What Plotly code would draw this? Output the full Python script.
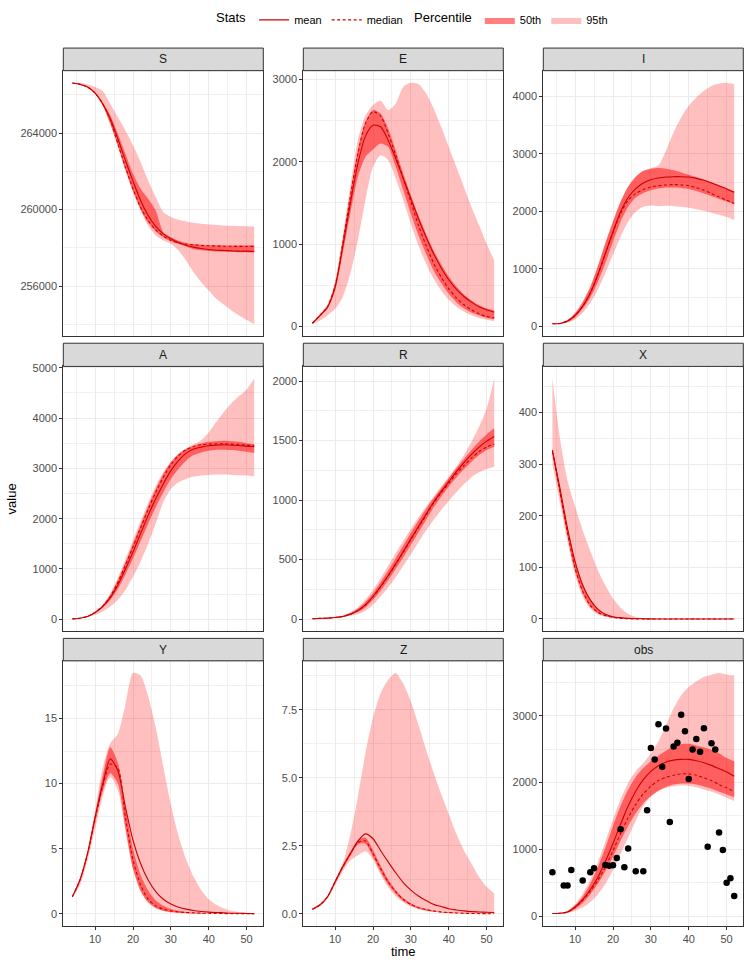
import plotly.graph_objects as go

# ---------------- data ----------------
time = list(range(4, 53, 2))

S_mean   = [266614, 266545, 266405, 266090, 265535, 264750, 263700, 262570, 261490, 260480, 259695, 259120, 258735, 258475, 258280, 258140, 258040, 257970, 257920, 257880, 257865, 257850, 257830, 257830, 257810]
S_median = [266614, 266545, 266405, 266090, 265535, 264700, 263440, 262220, 261090, 260130, 259430, 258945, 258610, 258390, 258265, 258195, 258160, 258130, 258110, 258100, 258090, 258085, 258080, 258075, 258074]
S_p25    = [266600, 266530, 266385, 266056, 265450, 264490, 263355, 262080, 260970, 260010, 259310, 258860, 258560, 258350, 258210, 258075, 257935, 257880, 257840, 257815, 257800, 257790, 257780, 257770, 257760]
S_p75    = [266625, 266560, 266425, 266120, 265580, 264925, 263965, 262920, 261870, 261090, 260570, 259955, 258820, 258560, 258380, 258260, 258200, 258160, 258140, 258135, 258130, 258130, 258130, 258135, 258150]
S_p025   = [266595, 266520, 266370, 266030, 265420, 264450, 263300, 262030, 260915, 259955, 259170, 258650, 258390, 258215, 257865, 257340, 256730, 256210, 255770, 255340, 255025, 254730, 254470, 254240, 254030]
S_p975   = [266630, 266615, 266545, 266405, 266195, 265535, 264835, 264140, 263360, 262490, 261525, 260655, 259870, 259610, 259470, 259380, 259310, 259260, 259225, 259200, 259170, 259155, 259140, 259130, 259120]

E_mean   = [40, 134, 235, 478, 965, 1492, 1978, 2311, 2444, 2424, 2262, 2039, 1796, 1553, 1309, 1086, 884, 714, 568, 454, 365, 296, 239, 203, 174]
E_median = [40, 134, 240, 499, 1005, 1573, 2100, 2465, 2607, 2554, 2343, 2080, 1796, 1512, 1228, 985, 770, 600, 458, 349, 264, 203, 154, 122, 105]
E_p25    = [36, 125, 222, 438, 884, 1370, 1816, 2059, 2149, 2222, 2181, 1938, 1654, 1370, 1107, 884, 681, 527, 397, 296, 223, 170, 134, 105, 89]
E_p75    = [44, 142, 252, 519, 1046, 1613, 2140, 2485, 2627, 2586, 2404, 2140, 1857, 1593, 1350, 1127, 924, 754, 608, 486, 389, 316, 259, 219, 195]
E_p025   = [32, 73, 134, 215, 357, 641, 1046, 1532, 1938, 2080, 2019, 1796, 1532, 1249, 985, 762, 580, 438, 324, 243, 182, 138, 105, 81, 65]
E_p975   = [53, 154, 276, 539, 1087, 1695, 2262, 2560, 2690, 2741, 2627, 2708, 2911, 2959, 2943, 2830, 2647, 2424, 2181, 1938, 1695, 1451, 1228, 1005, 803]

I_mean   = [40, 46, 87, 185, 346, 577, 895, 1270, 1645, 1991, 2240, 2395, 2494, 2551, 2580, 2597, 2603, 2603, 2597, 2574, 2540, 2494, 2442, 2390, 2332]
I_median = [40, 46, 87, 185, 346, 577, 895, 1265, 1630, 1962, 2193, 2309, 2378, 2424, 2447, 2459, 2465, 2459, 2447, 2413, 2367, 2309, 2251, 2193, 2136]
I_p25    = [39, 44, 70, 150, 300, 500, 770, 1100, 1472, 1818, 2078, 2240, 2320, 2367, 2395, 2413, 2413, 2407, 2390, 2355, 2309, 2263, 2216, 2170, 2124]
I_p75    = [41, 49, 105, 225, 415, 680, 1040, 1443, 1818, 2165, 2424, 2597, 2701, 2742, 2753, 2742, 2713, 2678, 2638, 2597, 2551, 2505, 2453, 2401, 2349]
I_p025   = [38, 42, 58, 115, 231, 404, 635, 924, 1241, 1558, 1818, 1991, 2078, 2101, 2089, 2095, 2089, 2078, 2061, 2037, 2009, 1974, 1939, 1899, 1847]
I_p975   = [42, 50, 110, 232, 420, 690, 1050, 1455, 1830, 2175, 2435, 2605, 2710, 2750, 2800, 3059, 3377, 3636, 3838, 3983, 4098, 4185, 4225, 4240, 4214]

A_mean   = [7, 20, 53, 132, 251, 429, 679, 996, 1339, 1702, 2065, 2394, 2691, 2955, 3153, 3298, 3384, 3423, 3450, 3463, 3470, 3463, 3456, 3443, 3430]
A_median = [7, 20, 55, 138, 262, 450, 732, 1075, 1438, 1814, 2183, 2526, 2823, 3074, 3252, 3371, 3437, 3470, 3483, 3489, 3489, 3483, 3476, 3463, 3450]
A_p25    = [5, 17, 47, 120, 230, 383, 600, 890, 1207, 1550, 1900, 2229, 2526, 2790, 2988, 3153, 3265, 3318, 3351, 3371, 3371, 3364, 3351, 3331, 3305]
A_p75    = [9, 23, 60, 145, 275, 481, 778, 1128, 1504, 1880, 2249, 2592, 2889, 3120, 3285, 3384, 3450, 3496, 3529, 3542, 3549, 3542, 3529, 3502, 3483]
A_p025   = [4, 15, 40, 86, 152, 251, 383, 580, 844, 1141, 1504, 1900, 2328, 2592, 2724, 2790, 2836, 2856, 2869, 2876, 2876, 2869, 2863, 2856, 2843]
A_p975   = [10, 25, 65, 150, 285, 514, 824, 1187, 1570, 1946, 2315, 2645, 2922, 3130, 3290, 3400, 3480, 3560, 3714, 3925, 4122, 4294, 4439, 4571, 4789]

R_mean   = [3, 6, 8, 14, 22, 42, 73, 120, 190, 274, 366, 464, 568, 674, 778, 881, 982, 1071, 1155, 1239, 1315, 1384, 1445, 1495, 1535]
R_median = [3, 6, 8, 14, 22, 42, 73, 118, 187, 270, 362, 460, 563, 668, 770, 872, 976, 1062, 1141, 1222, 1289, 1352, 1407, 1445, 1471]
R_p25    = [2, 4, 6, 11, 18, 34, 59, 98, 162, 238, 327, 422, 520, 624, 727, 833, 937, 1029, 1113, 1189, 1259, 1323, 1379, 1421, 1449]
R_p75    = [4, 8, 10, 17, 27, 50, 87, 143, 218, 310, 408, 512, 618, 724, 828, 926, 1015, 1099, 1183, 1267, 1345, 1421, 1491, 1552, 1603]
R_p025   = [1, 3, 5, 9, 15, 28, 42, 70, 120, 190, 266, 352, 448, 545, 646, 744, 833, 917, 993, 1066, 1133, 1192, 1233, 1261, 1281]
R_p975   = [5, 9, 12, 20, 32, 60, 98, 162, 246, 344, 448, 554, 657, 758, 853, 945, 1029, 1113, 1197, 1281, 1379, 1491, 1617, 1770, 2022]

X_mean   = [327, 253, 175, 111, 66, 37, 19, 9, 4.5, 2.6, 1.3, 0.6, 0.3, 0.15, 0.08, 0.04, 0.02, 0.01, 0.01, 0, 0, 0, 0, 0, 0]
X_median = [325, 246, 166, 98, 53, 26, 13, 6.5, 3.2, 1.3, 0.6, 0.3, 0.12, 0.06, 0.03, 0.01, 0.01, 0, 0, 0, 0, 0, 0, 0, 0]
X_p25    = [318, 238, 160, 93, 50, 24, 11.5, 5.5, 2.6, 1.1, 0.5, 0.2, 0.1, 0.05, 0.02, 0.01, 0, 0, 0, 0, 0, 0, 0, 0, 0]
X_p75    = [330, 256, 178, 113, 67, 38, 20, 9.5, 4.8, 2.8, 1.4, 0.65, 0.32, 0.16, 0.08, 0.04, 0.02, 0.01, 0.01, 0, 0, 0, 0, 0, 0]
X_p025   = [300, 225, 150, 85, 43, 20, 9, 4.2, 1.9, 0.8, 0.35, 0.15, 0.07, 0.03, 0.01, 0, 0, 0, 0, 0, 0, 0, 0, 0, 0]
X_p975   = [466, 350, 268, 218, 172, 132, 95, 65, 40, 22, 10, 4, 1.5, 0.5, 0.2, 0.1, 0.05, 0.02, 0.01, 0, 0, 0, 0, 0, 0]

Y_mean   = [1.32, 2.6, 4.64, 7.44, 9.98, 11.9, 11.0, 8.2, 5.65, 3.87, 2.6, 1.71, 1.12, 0.76, 0.51, 0.36, 0.25, 0.18, 0.13, 0.10, 0.08, 0.05, 0.04, 0.03, 0.02]
Y_median = [1.32, 2.6, 4.6, 7.3, 9.8, 11.5, 11.2, 7.4, 4.13, 2.22, 1.12, 0.61, 0.36, 0.23, 0.15, 0.10, 0.08, 0.05, 0.04, 0.03, 0.02, 0.02, 0.01, 0.01, 0.01]
Y_p25    = [1.28, 2.5, 4.45, 7.0, 9.4, 10.8, 10.0, 6.6, 3.5, 1.8, 0.9, 0.45, 0.24, 0.13, 0.08, 0.05, 0.03, 0.02, 0.01, 0.01, 0.01, 0, 0, 0, 0]
Y_p75    = [1.36, 2.7, 4.75, 7.6, 10.6, 12.8, 11.6, 8.3, 5.0, 3.0, 1.8, 1.05, 0.62, 0.38, 0.24, 0.15, 0.10, 0.07, 0.05, 0.03, 0.02, 0.02, 0.01, 0.01, 0.01]
Y_p025   = [1.25, 2.2, 4.1, 6.5, 9.0, 10.5, 9.5, 6.4, 3.4, 1.7, 0.85, 0.42, 0.22, 0.12, 0.07, 0.04, 0.02, 0.01, 0.01, 0, 0, 0, 0, 0, 0]
Y_p975   = [1.38, 2.8, 4.9, 7.9, 11.2, 13.1, 13.8, 16.1, 18.5, 18.3, 16.7, 14.3, 11.3, 8.4, 6.0, 4.2, 2.85, 1.83, 1.12, 0.69, 0.41, 0.23, 0.13, 0.08, 0.05]

Z_mean   = [0.17, 0.33, 0.63, 1.18, 1.73, 2.21, 2.67, 2.94, 2.76, 2.33, 1.91, 1.51, 1.15, 0.875, 0.66, 0.49, 0.35, 0.27, 0.19, 0.146, 0.11, 0.085, 0.073, 0.06, 0.05]
Z_median = [0.17, 0.33, 0.63, 1.18, 1.72, 2.2, 2.62, 2.68, 2.21, 1.67, 1.18, 0.81, 0.53, 0.35, 0.23, 0.16, 0.11, 0.073, 0.05, 0.036, 0.024, 0.018, 0.012, 0.009, 0.006]
Z_p25    = [0.15, 0.3, 0.6, 1.12, 1.65, 2.12, 2.55, 2.58, 2.1, 1.55, 1.08, 0.74, 0.48, 0.31, 0.2, 0.13, 0.085, 0.055, 0.037, 0.026, 0.018, 0.013, 0.009, 0.006, 0.004]
Z_p75    = [0.19, 0.36, 0.66, 1.22, 1.78, 2.28, 2.7, 2.8, 2.35, 1.78, 1.27, 0.88, 0.58, 0.39, 0.26, 0.18, 0.12, 0.08, 0.06, 0.045, 0.032, 0.024, 0.018, 0.013, 0.01]
Z_p025   = [0.14, 0.28, 0.56, 1.05, 1.55, 1.95, 2.15, 2.3, 2.0, 1.45, 0.98, 0.65, 0.42, 0.27, 0.17, 0.11, 0.07, 0.045, 0.03, 0.02, 0.014, 0.01, 0.007, 0.005, 0.003]
Z_p975   = [0.2, 0.38, 0.68, 1.25, 1.85, 2.9, 4.3, 5.9, 7.2, 8.1, 8.6, 8.85, 8.45, 7.8, 6.95, 6.04, 5.19, 4.4, 3.67, 2.94, 2.33, 1.85, 1.36, 1.0, 0.75]

obs_mean   = [40, 45, 64, 139, 248, 396, 584, 822, 1089, 1376, 1648, 1871, 2044, 2168, 2252, 2307, 2336, 2346, 2346, 2327, 2297, 2257, 2208, 2158, 2094]
obs_median = [40, 45, 62, 133, 238, 375, 535, 743, 980, 1238, 1475, 1673, 1832, 1945, 2030, 2079, 2109, 2129, 2129, 2109, 2069, 2030, 1970, 1921, 1861]
obs_p25    = [38, 42, 55, 109, 198, 327, 485, 673, 891, 1129, 1351, 1539, 1688, 1797, 1881, 1935, 1970, 1985, 1985, 1970, 1940, 1906, 1861, 1822, 1782]
obs_p75    = [42, 49, 75, 163, 297, 485, 733, 1030, 1351, 1648, 1896, 2084, 2218, 2317, 2401, 2475, 2539, 2574, 2579, 2554, 2525, 2490, 2440, 2366, 2317]
obs_p025   = [36, 40, 50, 79, 129, 213, 327, 485, 693, 931, 1178, 1426, 1648, 1787, 1871, 1921, 1945, 1955, 1950, 1931, 1896, 1861, 1822, 1772, 1723]
obs_p975   = [44, 52, 80, 178, 337, 545, 807, 1119, 1450, 1747, 1995, 2168, 2292, 2440, 2614, 2861, 3109, 3307, 3430, 3515, 3579, 3614, 3640, 3618, 3604]

obs_time  = [4, 7, 8, 9, 12, 14, 15, 18, 19, 20, 21, 22, 23, 24, 26, 28, 29, 30, 31, 32, 33, 34, 35, 36, 37, 38, 39, 40, 41, 42, 43, 44, 45, 46, 47, 48, 49, 50, 51, 52]
obs_value = [658, 460, 460, 693, 535, 658, 718, 767, 757, 762, 871, 1302, 733, 1015, 673, 673, 1584, 2515, 2346, 2871, 2237, 2807, 1411, 2539, 2594, 3015, 2767, 2054, 2495, 2653, 2460, 2812, 1040, 2589, 2495, 1252, 990, 500, 569, 302]

panels = ["S", "E", "I", "A", "R", "X", "Y", "Z", "obs"]
y_dticks = [4000, 1000, 1000, 1000, 500, 100, 5, 2.5, 1000]
y_formats = ["d", "d", "d", "d", "d", "d", "d", ".1f", "d"]
x_ticks = [10, 20, 30, 40, 50]

series = {
    "S": (S_mean, S_median, S_p25, S_p75, S_p025, S_p975),
    "E": (E_mean, E_median, E_p25, E_p75, E_p025, E_p975),
    "I": (I_mean, I_median, I_p25, I_p75, I_p025, I_p975),
    "A": (A_mean, A_median, A_p25, A_p75, A_p025, A_p975),
    "R": (R_mean, R_median, R_p25, R_p75, R_p025, R_p975),
    "X": (X_mean, X_median, X_p25, X_p75, X_p025, X_p975),
    "Y": (Y_mean, Y_median, Y_p25, Y_p75, Y_p025, Y_p975),
    "Z": (Z_mean, Z_median, Z_p25, Z_p75, Z_p025, Z_p975),
    "obs": (obs_mean, obs_median, obs_p25, obs_p75, obs_p025, obs_p975),
}

# ---------------- layout constants ----------------
W, H = 746, 960
col_l = [63.3, 303.3, 543.3]
col_r = [263.3, 503.3, 743.3]
strip_top = [43.3, 340.0, 636.7]
row_top = [66.0, 363.3, 659.3]
row_bot = [332.7, 629.3, 925.7]

LINE = "#CC0000"
F95 = "rgba(255,0,0,0.25)"
F50 = "rgba(255,0,0,0.5)"
FONT = "Liberation Sans, Arial, Helvetica, sans-serif"

fig = go.Figure()
layout = dict(
    width=W, height=H, margin=dict(l=0, r=0, t=0, b=0),
    paper_bgcolor="white", plot_bgcolor="white",
    font=dict(family=FONT, size=11, color="#4D4D4D"),
    shapes=[], annotations=[],
)

xt = min(time)
xmax = max(time)
xpad = 0.05 * (xmax - xt)

for i, p in enumerate(panels):
    r, c = divmod(i, 3)
    k = i + 1
    xa = "x" if k == 1 else f"x{k}"
    ya = "y" if k == 1 else f"y{k}"
    mean, median, p25, p75, p025, p975 = series[p]
    first = (i == 0)
    common = dict(x=time, xaxis=xa, yaxis=ya, mode="lines", hoverinfo="skip")
    spl = dict(shape="spline", smoothing=0.7)

    # 95th band
    fig.add_trace(go.Scatter(y=p025, line=dict(width=0, color=F95, **spl),
                             showlegend=False, **common))
    fig.add_trace(go.Scatter(y=p975, line=dict(width=0, color=F95, **spl),
                             fill="tonexty", fillcolor=F95, name="95th",
                             legend="legend2", legendrank=2,
                             showlegend=first, **common))
    # 50th band
    fig.add_trace(go.Scatter(y=p25, line=dict(width=0, color=F50, **spl),
                             showlegend=False, **common))
    fig.add_trace(go.Scatter(y=p75, line=dict(width=0, color=F50, **spl),
                             fill="tonexty", fillcolor=F50, name="50th",
                             legend="legend2", legendrank=1,
                             showlegend=first, **common))
    # lines
    fig.add_trace(go.Scatter(y=mean, line=dict(width=1.1, color=LINE, **spl),
                             name="mean", legend="legend", legendrank=1,
                             showlegend=first, **common))
    fig.add_trace(go.Scatter(y=median, line=dict(width=1.1, color=LINE, dash="3px,2.5px", **spl),
                             name="median", legend="legend", legendrank=2,
                             showlegend=first, **common))
    allv = list(p025) + list(p975) + list(mean) + list(median)
    if p == "obs":
        fig.add_trace(go.Scatter(x=obs_time, y=obs_value, xaxis=xa, yaxis=ya,
                                 mode="markers", marker=dict(color="black", size=6.5),
                                 showlegend=False, hoverinfo="skip"))
        allv += obs_value
    lo, hi = min(allv), max(allv)
    pad = 0.05 * (hi - lo)

    xd = [col_l[c] / W, col_r[c] / W]
    yd = [1 - row_bot[r] / H, 1 - row_top[r] / H]
    bottom_row = (r == 2)
    layout["xaxis" + ("" if k == 1 else str(k))] = dict(
        domain=xd, anchor=ya, range=[xt - xpad, xmax + xpad],
        tickmode="array", tickvals=x_ticks, ticktext=[str(v) for v in x_ticks],
        showticklabels=bottom_row, ticks="outside" if bottom_row else "",
        ticklen=3, tickwidth=1, tickcolor="#333333",
        tickfont=dict(size=11, color="#4D4D4D"),
        showgrid=True, gridcolor="#EBEBEB", gridwidth=1,
        minor=dict(tickmode="array", tickvals=[5, 15, 25, 35, 45, 55],
                   showgrid=True, gridcolor="#F0F0F0", gridwidth=0.6, ticks=""),
        zeroline=False, showline=True, mirror=True, linecolor="#333333", linewidth=1,
    )
    dt = y_dticks[i]
    layout["yaxis" + ("" if k == 1 else str(k))] = dict(
        domain=yd, anchor=xa, range=[lo - pad, hi + pad],
        tick0=0, dtick=dt, tickformat=y_formats[i],
        ticks="outside", ticklen=3, tickwidth=1, tickcolor="#333333",
        tickfont=dict(size=11, color="#4D4D4D"),
        showgrid=True, gridcolor="#EBEBEB", gridwidth=1,
        minor=dict(tick0=dt / 2, dtick=dt, showgrid=True, gridcolor="#F0F0F0",
                   gridwidth=0.6, ticks=""),
        zeroline=False, showline=True, mirror=True, linecolor="#333333", linewidth=1,
    )
    # strip
    layout["shapes"].append(dict(
        type="rect", xref="paper", yref="paper",
        x0=xd[0], x1=xd[1], y0=1 - row_top[r] / H, y1=1 - strip_top[r] / H,
        fillcolor="#D9D9D9", line=dict(color="#333333", width=1)))
    layout["annotations"].append(dict(
        text=p, xref="paper", yref="paper", showarrow=False,
        x=(col_l[c] + col_r[c]) / 2 / W, y=1 - (strip_top[r] + row_top[r]) / 2 / H,
        xanchor="center", yanchor="middle",
        font=dict(size=12, color="#1A1A1A")))

layout["annotations"].append(dict(
    text="value", xref="paper", yref="paper", showarrow=False,
    x=11 / W, y=1 - 497 / H, textangle=-90, xanchor="center", yanchor="middle",
    font=dict(size=13, color="black")))
layout["annotations"].append(dict(
    text="time", xref="paper", yref="paper", showarrow=False,
    x=403.3 / W, y=1 - 951 / H, xanchor="center", yanchor="middle",
    font=dict(size=13, color="black")))

layout["legend"] = dict(
    title=dict(text="Stats", font=dict(size=13, color="black")),
    orientation="h", x=214 / W, y=1 - 15 / H, xanchor="left", yanchor="middle",
    font=dict(size=11, color="black"), bgcolor="rgba(0,0,0,0)",
    itemwidth=30, tracegroupgap=0, traceorder="normal")
layout["legend2"] = dict(
    title=dict(text="Percentile", font=dict(size=13, color="black")),
    orientation="h", x=412 / W, y=1 - 15 / H, xanchor="left", yanchor="middle",
    font=dict(size=11, color="black"), bgcolor="rgba(0,0,0,0)",
    itemwidth=30, tracegroupgap=0, traceorder="normal")

fig.update_layout(**layout)
fig.write_html("out.html", config={"displayModeBar": False},
               post_script="document.body.style.margin='0';document.body.style.padding='0';")
